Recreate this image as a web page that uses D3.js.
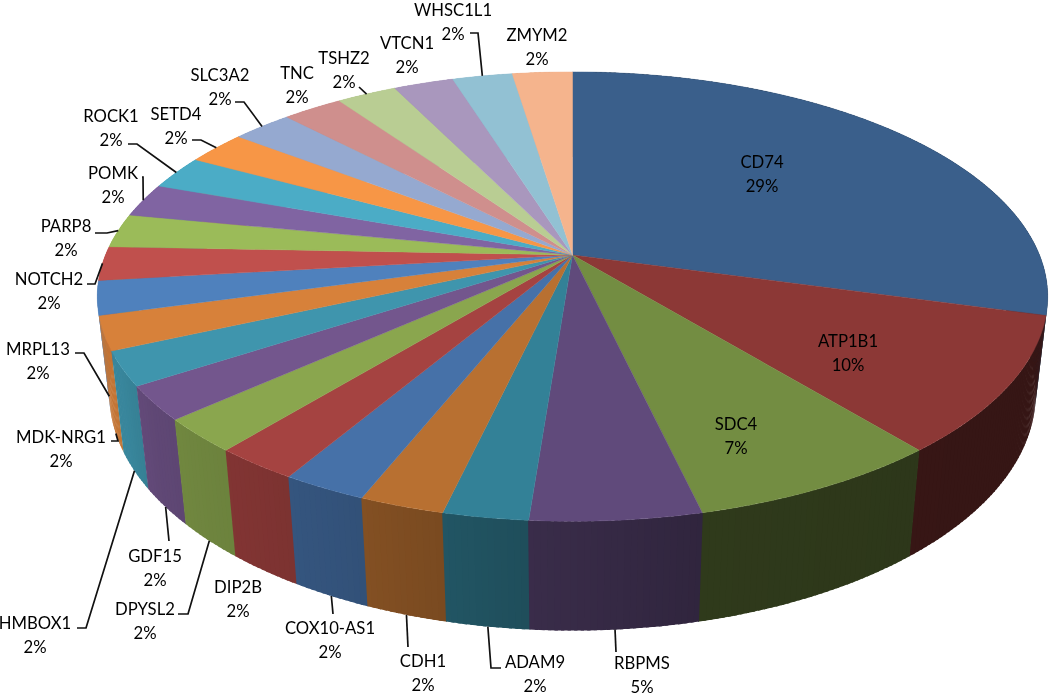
<!DOCTYPE html>
<html>
<head>
<meta charset="utf-8">
<script src="https://cdn.jsdelivr.net/npm/d3@7"></script>
<style>
  html, body { margin: 0; background: #fff; }
  svg { display: block; filter: blur(0.45px); }
  text { font-family: Lato, "Open Sans", sans-serif; font-size: 16.7px; fill: #000; text-anchor: middle; dominant-baseline: central; }
  .leader { fill: none; stroke: #111; stroke-width: 1.7; }
</style>
</head>
<body>
<svg width="1050" height="697"></svg>
<script>
/* slices run clockwise from 12 o'clock, same order as the source sheet */
const genes = ['CD74', 'ATP1B1', 'SDC4', 'RBPMS', 'ADAM9', 'CDH1', 'COX10-AS1', 'DIP2B',
    'DPYSL2', 'GDF15', 'HMBOX1', 'MDK-NRG1', 'MRPL13', 'NOTCH2', 'PARP8', 'POMK',
    'ROCK1', 'SETD4', 'SLC3A2', 'TNC', 'TSHZ2', 'VTCN1', 'WHSC1L1', 'ZMYM2'];
const counts = [12, 4, 3, 2, 1, 1, 1, 1, 1, 1, 1, 1, 1, 1, 1, 1, 1, 1, 1, 1, 1, 1, 1, 1];

const topColors = ['#3a5f8b', '#8c3836', '#738d42', '#604a7b', '#338197', '#b87031',
    '#4671a8', '#a54341', '#8aa64e', '#73568d', '#3f95ad', '#d7813a',
    '#4f81bd', '#c0504d', '#9bbb59', '#8064a2', '#4bacc6', '#f79646',
    '#95a9d0', '#cf8f8d', '#b9cd93', '#a997bd', '#92c1d3', '#f5b48d'];

/* label centres (first line) and the bend points of each leader, by gene */
const labelAt = {
    'CD74': [762, 162], 'ATP1B1': [848, 341], 'SDC4': [736, 424], 'RBPMS': [642, 663],
    'ADAM9': [535, 662], 'CDH1': [423, 661], 'COX10-AS1': [330, 628], 'DIP2B': [238, 587],
    'DPYSL2': [145, 609], 'GDF15': [155, 556], 'HMBOX1': [35, 623], 'MDK-NRG1': [61, 437],
    'MRPL13': [38, 349], 'NOTCH2': [49, 279], 'PARP8': [66, 226], 'POMK': [113, 173],
    'ROCK1': [111, 116], 'SETD4': [176, 114], 'SLC3A2': [220, 75], 'TNC': [297, 73],
    'TSHZ2': [344, 58], 'VTCN1': [407, 43], 'WHSC1L1': [453, 10], 'ZMYM2': [537, 35]
};
const leaderBends = {
    'RBPMS': [[616, 652]], 'ADAM9': [[501, 668], [491, 668]], 'CDH1': [[408, 647]],
    'COX10-AS1': [[333, 614]], 'DPYSL2': [[178, 614], [188, 614]], 'GDF15': [[169, 541]],
    'HMBOX1': [[77, 628], [86, 628]], 'MDK-NRG1': [[111, 441], [118, 441]],
    'MRPL13': [[75, 353], [84, 353]], 'NOTCH2': [[87, 284], [95, 284]],
    'PARP8': [[95, 233], [107, 233]], 'POMK': [[142, 177], [143, 177]],
    'ROCK1': [[128, 144], [137, 144]], 'SETD4': [[192, 140], [201, 140]],
    'SLC3A2': [[235, 102], [244, 102]], 'TSHZ2': [[359, 87]], 'WHSC1L1': [[470, 33], [478, 33]]
};
/* leaders on the near half land on the bottom rim, the rest on the top rim */
const leaderOnBottom = ['RBPMS', 'ADAM9', 'CDH1', 'COX10-AS1', 'DPYSL2', 'GDF15', 'HMBOX1', 'MDK-NRG1', 'MRPL13'];

const hubX = 572.5, hubY = 255;     // where all the slices meet
const radX = 467, radY = 217;       // disc radii before perspective
const persp = 0.185;                // far side of the disc shrinks by this much
const depth = 98.5, depthPersp = 0.025; // thickness of the pie and how much smaller the bottom is

/* perspective projection of a point on the rim; lower = 0 top face, 1 bottom face */
function rim(angle, lower = 0) {
    const u = Math.sin(angle), v = Math.cos(angle);
    const w = 1 + persp * v + depthPersp * lower;
    return [hubX + radX * u / w, hubY + (-radY * v + depth * lower) / w];
}

/* how dark the wall gets going round the front of the pie (degrees) */
const wallShade = d3.scaleLinear()
    .domain([90, 140, 166.7, 166.9, 184, 193, 205, 215, 224, 233, 242, 260])
    .range([0.38, 0.39, 0.41, 0.50, 0.60, 0.66, 0.73, 0.77, 0.80, 0.83, 0.90, 0.92])
    .clamp(true);

function shade(color, f) {
    const c = d3.rgb(color);
    return d3.rgb(c.r * f, c.g * f, c.b * f).formatHex();
}

const svg = d3.select('svg');
const line = d3.line();
const format = d3.format('.0%');
const total = d3.sum(counts);

const slices = d3.pie().sort(null).value(d => d).startAngle(0).endAngle(2 * Math.PI)(counts)
    .map((d, i) => ({...d, gene: genes[i], color: topColors[i], mid: (d.startAngle + d.endAngle) / 2}));

/* side wall: strips so the shade can change round the rim, far ones first.
   each strip runs a little under its neighbour so no seams show */
const strips = [];
slices.forEach(s => {
    const n = Math.max(2, Math.ceil((s.endAngle - s.startAngle) / 0.012));
    d3.range(n).forEach(k => {
        const a0 = s.startAngle + (s.endAngle - s.startAngle) * k / n;
        const a1 = s.startAngle + (s.endAngle - s.startAngle) * (k + 1) / n;
        strips.push({
            a0, a1, color: s.color,
            from: Math.max(a0 - 0.003, s.startAngle - 0.001),
            to: Math.min(a1 + 0.003, s.endAngle + 0.001)
        });
    });
});
strips.sort((a, b) => Math.cos(b.a0) - Math.cos(a.a0));

svg.append('g').selectAll('path')
    .data(strips)
    .enter()
    .append('path')
    .attr('d', d => line([rim(d.from), rim(d.to), rim(d.to, 1), rim(d.from, 1)]) + 'Z')
    .attr('fill', d => shade(d.color, wallShade((d.a0 + d.a1) / 2 * 180 / Math.PI)));

/* top face */
svg.append('g').selectAll('path')
    .data(slices)
    .enter()
    .append('path')
    .attr('d', s => {
        const n = Math.ceil((s.endAngle - s.startAngle) / 0.01);
        const pts = d3.range(n + 1).map(k => rim(s.startAngle + (s.endAngle - s.startAngle) * k / n));
        return line([[hubX, hubY], ...pts]) + 'Z';
    })
    .attr('fill', s => s.color)
    .attr('stroke', s => s.color)
    .attr('stroke-width', 0.4);

/* leaders */
svg.append('g').selectAll('path')
    .data(slices.filter(s => leaderBends[s.gene]))
    .enter()
    .append('path')
    .classed('leader', true)
    .attr('d', s => line([...leaderBends[s.gene], rim(s.mid, leaderOnBottom.includes(s.gene) ? 1 : 0)]));

/* labels, name over percent */
const labels = svg.append('g').selectAll('text')
    .data(slices)
    .enter()
    .append('text');
labels.append('tspan')
    .attr('x', s => labelAt[s.gene][0])
    .attr('y', s => labelAt[s.gene][1])
    .text(s => s.gene);
labels.append('tspan')
    .attr('x', s => labelAt[s.gene][0])
    .attr('y', s => labelAt[s.gene][1] + 24)
    .text(s => format(s.value / total));
</script>
</body>
</html>
